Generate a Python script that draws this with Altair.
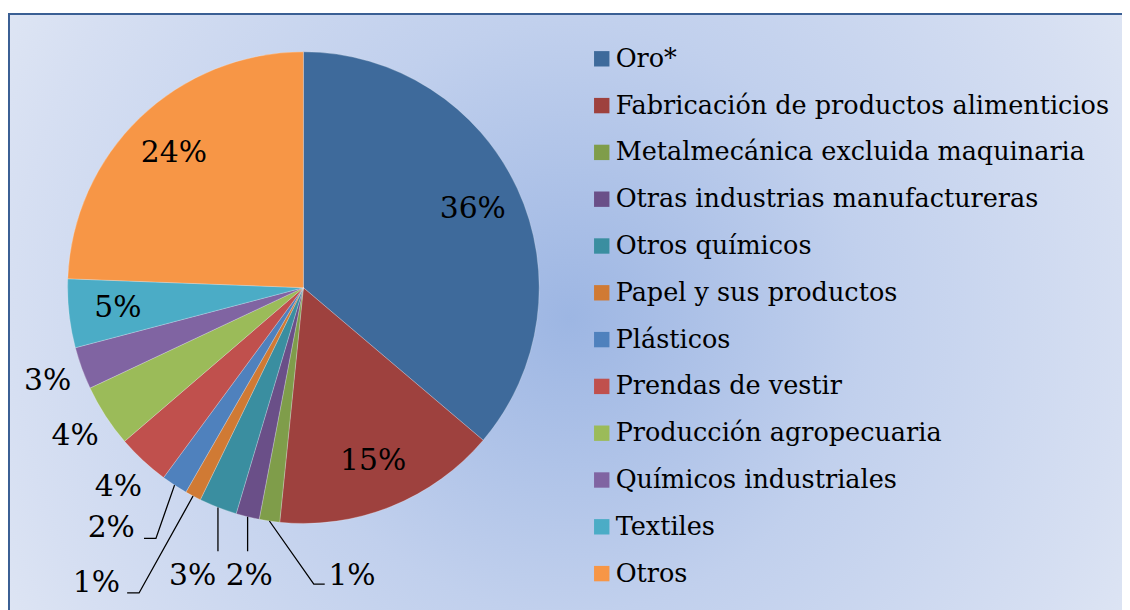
import math
import altair as alt
import pandas as pd

# ---------------- data ----------------
categories = [
    "Oro*",
    "Fabricación de productos alimenticios",
    "Metalmecánica excluida maquinaria",
    "Otras industrias manufactureras",
    "Otros químicos",
    "Papel y sus productos",
    "Plásticos",
    "Prendas de vestir",
    "Producción agropecuaria",
    "Químicos industriales",
    "Textiles",
    "Otros",
]
shares = [36.2, 15.4, 1.4, 1.6, 2.6, 1.1, 1.8, 3.6, 4.3, 2.9, 4.7, 24.4]
colors = ["#3E6A9B", "#9E413E", "#7F9D4A", "#6A4F88", "#3A8EA0", "#D07A34",
          "#4F81BD", "#C0504D", "#9BBB59", "#8064A2", "#4BACC6", "#F79646"]

inside_labels = ["Oro*", "Fabricación de productos alimenticios", "Textiles", "Otros"]
outside_labels = ["Prendas de vestir", "Producción agropecuaria", "Químicos industriales"]

# ---------------- layout ----------------
W, H = 1122, 602
CX, CY = 297.5, 279.5          # pie centre (chart coords)
R = 237.5
FONT = "DejaVu Serif"
LBL_SIZE = 30
LEG_SIZE = 25.7

# callout layout, offsets relative to the pie centre: leader bends, label centre
callouts = {
    "Metalmecánica excluida maquinaria": {"bends": [(10.5, 298.5), (21.5, 298.5)], "text": (49.0, 290.0)},
    "Otras industrias manufactureras": {"bends": [(None, 265.5)], "text": (-54.5, 290.0)},
    "Otros químicos": {"bends": [(None, 265.5)], "text": (-111.5, 290.0)},
    "Papel y sus productos": {"bends": [(-165.5, 307.5), (-177.5, 307.5)], "text": (-208.5, 298.0)},
    "Plásticos": {"bends": [(-148.5, 252.5), (-160.5, 252.5)], "text": (-193.5, 242.0)},
}

df = pd.DataFrame({"cat": categories, "share": shares, "idx": list(range(len(categories)))})
total = sum(shares)
df["pct"] = [f"{int(v / total * 100 + 0.5)}%" for v in shares]
df["in_lbl"] = [p if c in inside_labels else "" for c, p in zip(categories, df["pct"])]
df["out_lbl"] = [p if c in outside_labels else "" for c, p in zip(categories, df["pct"])]

# leader lines start on the rim at each slice's mid angle (computed from the data)
rows_line, rows_txt = [], []
cum = 0.0
for c, v, p in zip(categories, shares, df["pct"]):
    mid = (cum + v / 2) / total * 2 * math.pi
    cum += v
    if c not in callouts:
        continue
    sx = CX + R * math.sin(mid)
    sy = CY - R * math.cos(mid)
    pts = [(sx, sy)]
    for bx, by in callouts[c]["bends"]:
        pts.append((sx if bx is None else CX + bx, CY + by))
    for k, (px, py) in enumerate(pts):
        rows_line.append({"cat": c, "k": k, "px": px, "py": py})
    tx, ty = callouts[c]["text"]
    rows_txt.append({"cat": c, "px": CX + tx, "py": CY + ty, "pct": p})

lines_df = pd.DataFrame(rows_line)
ctext_df = pd.DataFrame(rows_txt)

one = pd.DataFrame({"a": [0]})

# ---------------- background ----------------
GX, GY, GS = 565, 310, 600   # square gradient box so that the gradient is circular
bg = alt.Chart(one).mark_rect(
    fill={
        "gradient": "radial",
        "x1": 0.5, "y1": 0.5, "r1": 0,
        "x2": 0.5, "y2": 0.5, "r2": 0.55,
        "stops": [
            {"offset": 0, "color": "#9DB6E3"},
            {"offset": 0.45, "color": "#C1D0ED"},
            {"offset": 0.85, "color": "#D6DFF2"},
            {"offset": 1, "color": "#DFE6F4"},
        ],
    },
).encode(x=alt.value(GX - GS), x2=alt.value(GX + GS), y=alt.value(GY - GS), y2=alt.value(GY + GS))

top_strip = alt.Chart(one).mark_rect(fill="#FFFFFF").encode(
    x=alt.value(-10), x2=alt.value(W + 10), y=alt.value(-10), y2=alt.value(3)
)
border = alt.Chart(one).mark_rect(fill="transparent", stroke="#3A5F94", strokeWidth=2).encode(
    x=alt.value(1), x2=alt.value(1150), y=alt.value(4), y2=alt.value(640)
)

color_scale = alt.Scale(domain=categories, range=colors)
theta = alt.Theta("share:Q", stack=True)
order = alt.Order("idx:Q", sort="ascending")

base = alt.Chart(df)

pie = base.mark_arc(outerRadius=R, stroke="#FFFFFF", strokeWidth=0.8, strokeOpacity=0.3).encode(
    theta=theta,
    color=alt.Color("cat:N", scale=color_scale, legend=None),
    order=order,
    x=alt.value(CX),
    y=alt.value(CY),
)

in_text = base.mark_text(radius=188, font=FONT, fontSize=LBL_SIZE, color="#000000",
                         align="center", baseline="middle").encode(
    theta=theta, order=order, text="in_lbl:N", x=alt.value(CX), y=alt.value(CY)
)
out_text = base.mark_text(radius=274, font=FONT, fontSize=LBL_SIZE, color="#000000",
                          align="center", baseline="middle").encode(
    theta=theta, order=order, text="out_lbl:N", x=alt.value(CX), y=alt.value(CY)
)

leaders = alt.Chart(lines_df).mark_line(color="#000000", strokeWidth=1.3).encode(
    x=alt.X("px:Q", scale=None),
    y=alt.Y("py:Q", scale=None),
    detail="cat:N",
    order="k:Q",
)
callout_text = alt.Chart(ctext_df).mark_text(font=FONT, fontSize=LBL_SIZE, color="#000000",
                                             align="center", baseline="middle").encode(
    x=alt.X("px:Q", scale=None),
    y=alt.Y("py:Q", scale=None),
    text="pct:N",
)

# ---------------- legend ----------------
leg_y = alt.Y("cat:N", scale=alt.Scale(domain=categories, range=[49, 567.5], type="point", padding=0), axis=None)
leg_sq = base.mark_square(size=240, opacity=1).encode(
    x=alt.value(598),
    y=leg_y,
    color=alt.Color("cat:N", scale=color_scale, legend=None),
)
leg_txt = base.mark_text(font=FONT, fontSize=LEG_SIZE, color="#000000", align="left",
                         baseline="middle").encode(
    x=alt.value(612),
    y=leg_y,
    text="cat:N",
)

chart = alt.layer(bg, top_strip, border, pie, in_text, out_text, leaders, callout_text, leg_sq, leg_txt).resolve_scale(
    x="independent", y="independent"
).properties(
    width=W, height=H, padding=0, autosize=alt.AutoSizeParams(type="none")
).configure_view(stroke=None).configure(background="#FFFFFF")

chart.save("out.html", embed_options={"renderer": "svg", "actions": False})
